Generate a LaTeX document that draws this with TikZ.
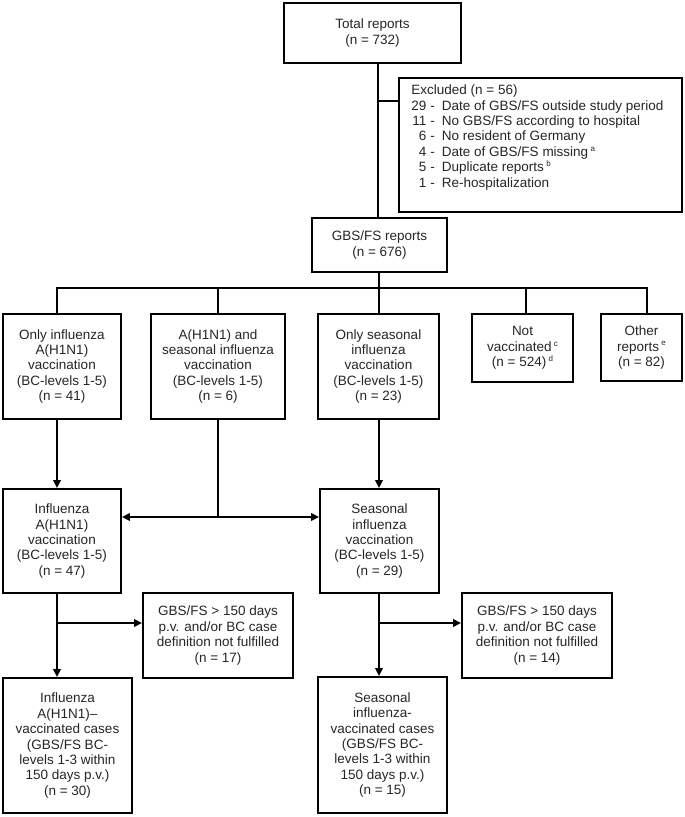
\documentclass[tikz,border=0pt]{standalone}
\usepackage{fontspec}
\setmainfont{Liberation Sans}
\usetikzlibrary{arrows.meta}
\newcommand\myfs{\fontsize{13.5}{15.4}\selectfont}
\newcommand\sups[1]{\,{\fontsize{8}{8}\selectfont\raisebox{5pt}{#1}}}
\begin{document}
\begin{tikzpicture}[x=1pt,y=-1pt,
  box/.style={draw=black, line width=1.9pt, align=center, inner sep=0pt, font=\myfs, text=black!85},
  link/.style={line width=1.9pt},
  arr/.style={line width=1.9pt, -{Triangle[length=8pt,width=7.5pt]}}]
\path[use as bounding box, fill=white] (0,0) rectangle (685,817);

% nodes
\node[box, minimum width=177pt, minimum height=60pt] (total) at (372.5,33) {Total reports\\(n = 732)};
\node[box, anchor=north west, inner xsep=12.5pt, inner ysep=6pt] (excl) at (398,77)
 {\parbox[c][122pt][t]{258pt}{\myfs
  \begin{tabular}{@{}r@{\hspace{4pt}-\hspace{7pt}}l@{}}
  \multicolumn{2}{@{}l@{}}{Excluded (n = 56)}\\
  29 & Date of GBS/FS outside study period\\
  11 & No GBS/FS according to hospital\\
  6 & No resident of Germany\\
  4 & Date of GBS/FS missing\sups{a}\\
  5 & Duplicate reports\sups{b}\\
  1 & Re-hospitalization
  \end{tabular}}};
\node[box, minimum width=135pt, minimum height=54pt] (gbs) at (379.5,245) {GBS/FS reports\\(n = 676)};

\node[box, minimum width=118pt, minimum height=105pt] (b1) at (62,366.5) {Only influenza\\A(H1N1)\\vaccination\\(BC-levels 1-5)\\(n = 41)};
\node[box, minimum width=134pt, minimum height=105pt] (b2) at (218,366.5) {A(H1N1) and\\seasonal influenza\\vaccination\\(BC-levels 1-5)\\(n = 6)};
\node[box, minimum width=121pt, minimum height=105pt] (b3) at (378.5,366.5) {Only seasonal\\influenza\\vaccination\\(BC-levels 1-5)\\(n = 23)};
\node[box, minimum width=101pt, minimum height=68pt] (nv) at (522.5,348) {Not\\vaccinated\sups{c}\\(n = 524)\sups{d}};
\node[box, minimum width=81pt, minimum height=67pt] (ot) at (641.5,347.5) {Other\\reports\sups{e}\\(n = 82)};

\node[box, minimum width=118pt, minimum height=104pt] (infA) at (62,541) {Influenza\\A(H1N1)\\vaccination\\(BC-levels 1-5)\\(n = 47)};
\node[box, minimum width=119pt, minimum height=104pt] (seas) at (379.5,541) {Seasonal\\influenza\\vaccination\\(BC-levels 1-5)\\(n = 29)};

\node[box, minimum width=150pt, minimum height=85pt] (ex1) at (218,635.5) {GBS/FS > 150 days\\p.v. and/or BC case\\definition not fulfilled\\(n = 17)};
\node[box, minimum width=150pt, minimum height=85pt] (ex2) at (537,635.5) {GBS/FS > 150 days\\p.v. and/or BC case\\definition not fulfilled\\(n = 14)};

\node[box, minimum width=129pt, minimum height=135pt] (finA) at (67.5,745.5) {Influenza\\A(H1N1)–\\vaccinated cases\\(GBS/FS BC-\\levels 1-3 within\\150 days p.v.)\\(n = 30)};
\node[box, minimum width=129pt, minimum height=136pt] (finS) at (382.5,745) {Seasonal\\influenza-\\vaccinated cases\\(GBS/FS BC-\\levels 1-3 within\\150 days p.v.)\\(n = 15)};

% helper coordinates
\coordinate (tbot) at ([xshift=5.5pt]total.south);
\coordinate (exj) at ([yshift=44pt]excl.west);
\coordinate (bus) at (379,288);
\coordinate (d1) at ([xshift=-5pt]b1.north);
\coordinate (d4) at ([xshift=3.5pt]nv.north);
\coordinate (d5) at ([xshift=5.5pt]ot.north);
\coordinate (a1) at ([xshift=-5pt]b1.south);
\coordinate (split) at (218,517);
\coordinate (c1) at ([xshift=-5pt]infA.south);
\coordinate (s1) at ([xshift=-0.5pt]seas.south);
\coordinate (e1) at ([yshift=12.5pt]ex1.west);
\coordinate (e2) at ([yshift=12.5pt]ex2.west);

% connectors
\draw[link] (tbot) -- (tbot |- gbs.north);
\draw[link] (exj) -- (exj -| tbot);
\draw[link] (bus |- gbs.south) -- (bus);
\draw[link] (d1) |- (bus) -| (d5);
\draw[link] (bus |- b3.north) -- (bus);
\draw[link] (b2.north) -- (b2.north |- bus);
\draw[link] (d4) -- (d4 |- bus);

\draw[arr] (a1) -- (a1 |- infA.north);
\draw[arr] (bus |- b3.south) -- (bus |- seas.north);
\draw[link] (b2.south) -- (split);
\draw[arr] (split) -- (split -| infA.east);
\draw[arr] (split) -- (split -| seas.west);

\draw[arr] (c1) -- (c1 |- finA.north);
\draw[arr] (c1 |- e1) -- (e1);
\draw[arr] (s1) -- (s1 |- finS.north);
\draw[arr] (s1 |- e2) -- (e2);
\end{tikzpicture}
\end{document}
